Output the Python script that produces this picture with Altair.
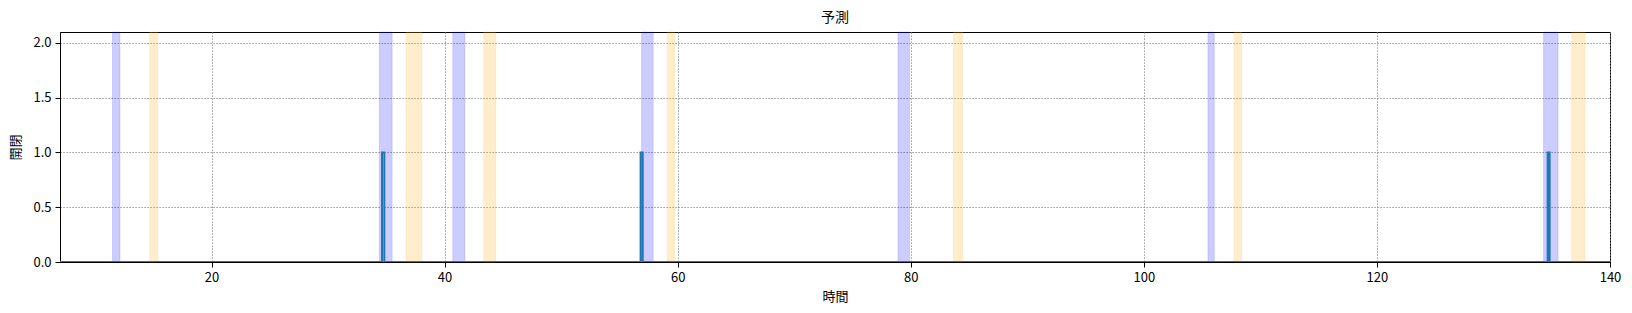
import altair as alt
import pandas as pd

# shaded periods (time units)
blue_start = [11.5, 34.4, 40.7, 56.9, 78.9, 105.5, 134.3]
blue_end = [12.15, 35.5, 41.75, 57.9, 79.9, 106.05, 135.55]
orange_start = [14.7, 36.7, 43.35, 59.1, 83.65, 107.75, 136.7]
orange_end = [15.4, 38.05, 44.4, 59.75, 84.45, 108.4, 137.85]

# prediction pulses (open = 1)
pulse_start = [34.63, 56.82, 134.65]
pulse_end = [34.83, 57.0, 134.82]
t_min, t_max = 7.0, 140.0

x_ticks = [20, 40, 60, 80, 100, 120, 140]
y_ticks = [0.0, 0.5, 1.0, 1.5, 2.0]

W, H = 1550, 230

blue_df = pd.DataFrame({"s": blue_start, "e": blue_end})
orange_df = pd.DataFrame({"s": orange_start, "e": orange_end})

ts, vs = [t_min], [0]
for s, e in zip(pulse_start, pulse_end):
    ts += [s, s, e, e]
    vs += [0, 1, 1, 0]
ts.append(t_max)
vs.append(0)
line_df = pd.DataFrame({"t": ts, "v": vs, "i": list(range(len(ts)))})

xscale = alt.Scale(domain=[t_min, t_max], nice=False, zero=False)
yscale = alt.Scale(domain=[0, 2.1], nice=False)

xaxis = alt.Axis(values=x_ticks, title="時間", grid=True, format="d")
yaxis = alt.Axis(values=y_ticks, title="開閉", grid=True, format=".1f")

blue = alt.Chart(blue_df).mark_rect(
    fill="#0000ff", fillOpacity=0.2, stroke="#0000ff", strokeOpacity=0.12, strokeWidth=1
).encode(
    x=alt.X("s:Q", scale=xscale, axis=xaxis),
    x2="e:Q",
    y=alt.value(0),
    y2=alt.value(H),
)

orange = alt.Chart(orange_df).mark_rect(
    fill="#ffa500", fillOpacity=0.2, stroke="#ffa500", strokeOpacity=0.12, strokeWidth=1
).encode(
    x=alt.X("s:Q", scale=xscale),
    x2="e:Q",
    y=alt.value(0),
    y2=alt.value(H),
)

line = alt.Chart(line_df).mark_line(color="#1f77b4", strokeWidth=2, clip=True).encode(
    x=alt.X("t:Q", scale=xscale),
    y=alt.Y("v:Q", scale=yscale, axis=yaxis),
    order="i:Q",
)

chart = (
    alt.layer(blue, orange, line)
    .properties(
        width=W,
        height=H,
        title=alt.TitleParams("予測", fontSize=14, fontWeight="normal", offset=7,
                              font="Noto Sans CJK JP", color="black"),
        autosize=alt.AutoSizeParams(type="none"),
        padding={"left": 60, "top": 32, "right": 22, "bottom": 51},
    )
    .configure_view(stroke="black", strokeWidth=1)
    .configure_axis(
        labelFont="Noto Sans CJK JP",
        titleFont="Noto Sans CJK JP",
        labelFontSize=13,
        titleFontSize=13,
        titleFontWeight="normal",
        labelColor="black",
        titleColor="black",
        domainColor="black",
        domainWidth=1,
        tickColor="black",
        tickSize=5,
        labelPadding=4,
        gridColor="#808080",
        gridDash=[1.2, 1.8],
        gridWidth=1,
        zindex=1,
    )
    .configure_axisX(titlePadding=6, labelFlush=False)
    .configure_axisY(titlePadding=10, labelFlush=False)
)

chart.save("out.html", embed_options={"renderer": "svg", "actions": False})
